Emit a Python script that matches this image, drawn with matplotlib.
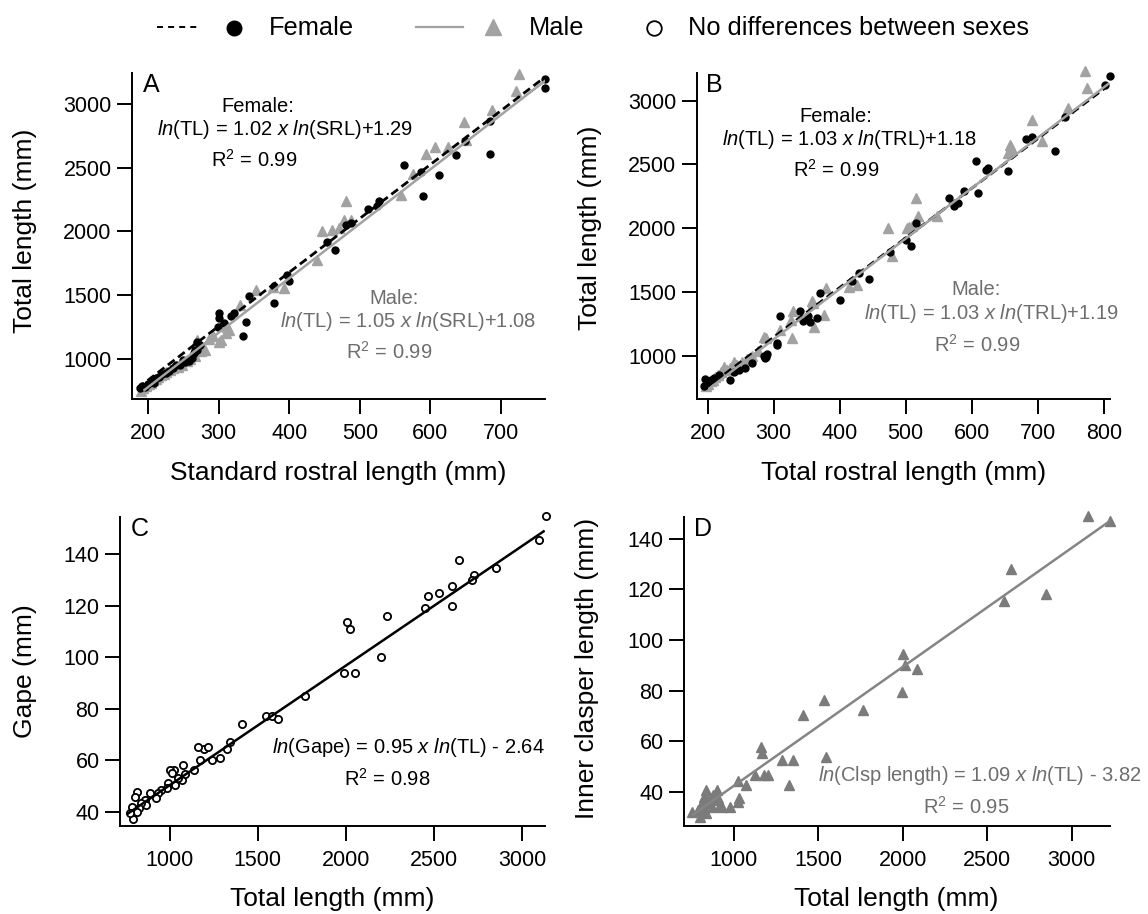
import numpy as np
import matplotlib.pyplot as plt
from matplotlib.lines import Line2D

plt.rcParams['font.family'] = ['Liberation Sans', 'DejaVu Sans']
plt.rcParams['mathtext.fontset'] = 'custom'
plt.rcParams['mathtext.rm'] = 'Liberation Sans'
plt.rcParams['mathtext.it'] = 'Liberation Sans:italic'

# ---- panel A : total length vs standard rostral length ----
a_fem_srl = [763, 763, 685, 685, 637, 649, 563, 587, 612, 590, 511, 527, 525, 480, 488,
             454, 465, 400, 397, 379, 379, 343, 339, 334, 301, 301, 307, 317, 322, 299,
             273, 270, 265, 262, 250, 245, 269, 267,
             189, 192, 196, 200, 204, 208, 212, 216, 220, 225, 230, 236, 240, 252, 258]
a_fem_tl = [3200, 3125, 2870, 2610, 2597, 2707, 2524, 2464, 2446, 2281, 2176, 2236, 2197, 2048, 2066,
            1917, 1856, 1608, 1660, 1576, 1437, 1495, 1293, 1181, 1359, 1320, 1280, 1338, 1359, 1254,
            1110, 1070, 1045, 1005, 992, 953, 1136, 1070,
            770, 790, 783, 805, 820, 815, 850, 862, 880, 890, 905, 925, 950, 975, 985]
a_mal_srl = [725, 721, 688, 647, 625, 607, 594, 651, 576, 559, 480, 488, 478, 470, 460,
             446, 439, 353, 392, 377, 330, 301, 312, 286, 270, 304, 281, 310, 315,
             190, 193, 197, 201, 204, 207, 211, 214, 218, 222, 226, 231, 236, 242, 248,
             255, 260, 266, 275, 292]
a_mal_tl = [3239, 3100, 2951, 2859, 2663, 2663, 2608, 2720, 2453, 2289, 2236, 2092, 2092, 2027, 2014,
            2000, 1778, 1542, 1555, 1568, 1424, 1136, 1254, 1155, 1150, 1149, 1070, 1200, 1230,
            752, 770, 785, 800, 815, 835, 845, 860, 875, 885, 900, 910, 925, 940, 955,
            985, 1000, 1020, 1060, 1180]
a_fem_fit = ([185, 762], [770, 3210])
a_mal_fit = ([195, 762], [757, 3180])

# ---- panel B : total length vs total rostral length ----
b_fem_trl = [810, 802, 741, 726, 683, 691, 655, 606, 622, 625, 610, 588, 566, 574, 580,
             516, 508, 500, 477, 445, 430, 419, 400, 371, 340, 310, 352, 365, 345, 355,
             305, 286, 290, 305,
             194, 196, 200, 205, 210, 218, 234, 240, 248, 256, 267, 287, 289]
b_fem_tl = [3192, 3127, 2873, 2603, 2702, 2715, 2446, 2524, 2459, 2470, 2276, 2289, 2236, 2171, 2197,
            2040, 1857, 1909, 1812, 1603, 1647, 1582, 1438, 1490, 1354, 1312, 1307, 1294, 1270, 1260,
            1084, 998, 1010, 1100,
            762, 815, 790, 805, 825, 845, 809, 870, 890, 905, 940, 979, 990]
b_mal_trl = [771, 774, 746, 691, 707, 658, 658, 516, 519, 547, 502, 474, 480, 380, 414,
             427, 358, 330, 377, 361, 328, 286, 289, 310, 327, 359, 505, 510, 655, 660,
             198, 201, 205, 208, 212, 216, 220, 225, 229, 234, 240, 245, 252, 260, 268, 276]
b_mal_tl = [3231, 3100, 2943, 2852, 2681, 2655, 2603, 2236, 2092, 2092, 2001, 2001, 1778, 1530, 1542,
            1555, 1425, 1347, 1320, 1228, 1137, 1150, 1135, 1202, 1280, 1410, 2010, 2020, 2590, 2640,
            760, 780, 800, 812, 830, 850, 870, 914, 890, 905, 953, 930, 950, 975, 1000, 1040]
b_fem_fit = ([195, 807], [735, 3119])
b_mal_fit = ([203, 807], [744, 3132])

# ---- panel C : gape vs total length (sexes pooled) ----
c_tl = [3134, 3093, 2850, 2726, 2716, 2643, 2601, 2601, 2529, 2466, 2446, 2234, 2197, 2006, 2021,
        1990, 2052, 1768, 1548, 1579, 1612, 1409, 1342, 1326, 1284, 1243, 1195, 1216, 1160, 1170,
        1139, 1077, 1073, 1087, 1025, 1004, 1015, 1031, 994, 983, 952, 932, 921, 890, 859,
        869, 818, 807, 838, 828, 786, 818, 791, 776, 1046]
c_gape = [154.9, 145.8, 134.7, 132.2, 129.9, 138.0, 127.9, 120.1, 125.0, 123.7, 119.2, 115.9, 100.0, 113.7, 111.0,
          93.8, 93.8, 84.8, 77.0, 77.0, 75.9, 74.0, 67.2, 64.2, 61.0, 60.1, 64.2, 65.3, 65.3, 60.1,
          56.2, 58.1, 52.3, 54.5, 56.2, 56.2, 54.9, 50.3, 51.0, 49.0, 48.4, 47.1, 45.1, 47.1, 44.5,
          42.6, 47.7, 45.8, 43.2, 41.3, 41.9, 40.0, 37.0, 39.3, 52.9]
c_fit = ([766, 3120], [39.3, 149.0])

# ---- panel D : inner clasper length vs total length (males) ----
d_tl = [3098, 3228, 2643, 2599, 2849, 2000, 2014, 2086, 1993, 1765, 1533, 1412, 1548, 1158, 1165,
        1347, 1284, 1325, 1126, 1180, 1201, 1071, 1024, 1032, 1024, 833, 898, 876, 822, 887,
        920, 974, 931, 855, 811, 751, 790, 800, 833, 822, 870, 905, 845]
d_clsp = [149.2, 147.0, 128.1, 115.3, 118.3, 94.4, 90.2, 88.5, 79.3, 72.3, 76.3, 70.4, 53.5, 57.5, 55.4,
          52.5, 52.5, 42.6, 46.6, 46.6, 46.6, 42.6, 44.3, 37.3, 36.0, 40.6, 40.6, 38.7, 38.0, 36.7,
          34.7, 34.0, 34.0, 35.4, 35.4, 31.8, 32.7, 30.1, 31.4, 33.4, 34.0, 37.5, 36.5]
d_fit = ([760, 3224], [31, 147])

FEM = 'black'
MAL = '#a2a2a2'
MAL_TXT = '#6e6e6e'
D_COL = '#7b7b7b'

W, H = 1148, 914
fig = plt.figure(figsize=(W / 100, H / 100), dpi=100)


def style(ax, xticks, yticks):
    for s in ['top', 'right']:
        ax.spines[s].set_visible(False)
    for s in ['left', 'bottom']:
        ax.spines[s].set_linewidth(1.4)
    ax.set_xticks(xticks)
    ax.set_yticks(yticks)
    ax.tick_params(length=10.5, width=1.4, labelsize=15.5)
    ax.tick_params(axis='x', pad=7)
    ax.tick_params(axis='y', pad=4)


def eq(ax, x, y, s, color='black'):
    ax.text(x, y, s, ha='center', va='center', fontsize=14.5, color=color)


# A
axA = fig.add_axes([0.1148, 0.5635, 0.3603, 0.3567])
axA.plot(a_mal_srl, a_mal_tl, ls='none', marker='^', ms=6.5, color=MAL, clip_on=False)
axA.plot(a_fem_srl, a_fem_tl, ls='none', marker='o', ms=5, color=FEM, clip_on=False)
axA.plot(*a_mal_fit, color=MAL, lw=1.8)
axA.plot(*a_fem_fit, color=FEM, lw=2.0, ls=(0, (3, 1.6)))
axA.set_xlim(177, 763)
axA.set_ylim(686, 3244)
style(axA, range(200, 701, 100), range(1000, 3001, 500))
axA.set_xlabel('Standard rostral length (mm)', fontsize=19)
axA.set_ylabel('Total length (mm)', fontsize=19)
axA.xaxis.set_label_coords(0.5, -0.19)
axA.yaxis.set_label_coords(-0.23, 0.515)
axA.text(0.027, 1.0, 'A', transform=axA.transAxes, ha='left', va='top', fontsize=18)
eq(axA, 356, 2982, 'Female:')
eq(axA, 394, 2799, r'$\mathit{ln}$(TL) = 1.02 $\mathit{x}$ $\mathit{ln}$(SRL)+1.29')
eq(axA, 351, 2563, r'R$^2$ = 0.99')
eq(axA, 548, 1477, 'Male:', MAL_TXT)
eq(axA, 569, 1293, r'$\mathit{ln}$(TL) = 1.05 $\mathit{x}$ $\mathit{ln}$(SRL)+1.08', MAL_TXT)
eq(axA, 542, 1058, r'R$^2$ = 0.99', MAL_TXT)

# B
axB = fig.add_axes([0.6068, 0.5635, 0.3598, 0.3567])
axB.plot(b_mal_trl, b_mal_tl, ls='none', marker='^', ms=6.5, color=MAL, clip_on=False)
axB.plot(b_fem_trl, b_fem_tl, ls='none', marker='o', ms=5, color=FEM, clip_on=False)
axB.plot(*b_fem_fit, color=FEM, lw=2.0, ls=(0, (3, 1.6)))
axB.plot(*b_mal_fit, color=MAL, lw=1.8)
axB.set_xlim(183.4, 809)
axB.set_ylim(660, 3218)
style(axB, range(200, 801, 100), range(1000, 3001, 500))
axB.set_xlabel('Total rostral length (mm)', fontsize=19)
axB.set_ylabel('Total length (mm)', fontsize=19)
axB.xaxis.set_label_coords(0.5, -0.19)
axB.yaxis.set_label_coords(-0.23, 0.525)
axB.text(0.022, 1.0, 'B', transform=axB.transAxes, ha='left', va='top', fontsize=18)
eq(axB, 394, 2878, 'Female:')
eq(axB, 415, 2695, r'$\mathit{ln}$(TL) = 1.03 $\mathit{x}$ $\mathit{ln}$(TRL)+1.18')
eq(axB, 394, 2459, r'R$^2$ = 0.99')
eq(axB, 606, 1516, 'Male:', MAL_TXT)
eq(axB, 630, 1328, r'$\mathit{ln}$(TL) = 1.03 $\mathit{x}$ $\mathit{ln}$(TRL)+1.19', MAL_TXT)
eq(axB, 609, 1084, r'R$^2$ = 0.99', MAL_TXT)

# C
axC = fig.add_axes([0.1043, 0.0966, 0.3708, 0.3378])
axC.plot(c_tl, c_gape, ls='none', marker='o', ms=5.2, mfc='white', mec='black', mew=1.3, clip_on=False)
axC.plot(*c_fit, color='black', lw=1.8)
axC.set_xlim(718, 3130)
axC.set_ylim(34.5, 154.6)
style(axC, range(1000, 3001, 500), range(40, 141, 20))
axC.set_xlabel('Total length (mm)', fontsize=19)
axC.set_ylabel('Gape (mm)', fontsize=19)
axC.xaxis.set_label_coords(0.5, -0.2)
axC.yaxis.set_label_coords(-0.195, 0.5)
axC.text(0.025, 1.0, 'C', transform=axC.transAxes, ha='left', va='top', fontsize=18)
eq(axC, 2352, 65.0, r'$\mathit{ln}$(Gape) = 0.95 $\mathit{x}$ $\mathit{ln}$(TL) - 2.64')
eq(axC, 2232, 52.9, r'R$^2$ = 0.98')

# D
axD = fig.add_axes([0.5956, 0.0966, 0.3709, 0.3378])
axD.plot(d_tl, d_clsp, ls='none', marker='^', ms=7.2, color=D_COL, clip_on=False)
axD.plot(*d_fit, color='#858585', lw=1.8)
axD.set_xlim(703, 3224)
axD.set_ylim(26.5, 148.7)
style(axD, range(1000, 3001, 500), range(40, 141, 20))
axD.set_xlabel('Total length (mm)', fontsize=19)
axD.set_ylabel('Inner clasper length (mm)', fontsize=19)
axD.xaxis.set_label_coords(0.5, -0.2)
axD.yaxis.set_label_coords(-0.198, 0.51)
axD.text(0.025, 1.0, 'D', transform=axD.transAxes, ha='left', va='top', fontsize=18)
eq(axD, 2458, 46.2, r'$\mathit{ln}$(Clsp length) = 1.09 $\mathit{x}$ $\mathit{ln}$(TL) - 3.82', MAL_TXT)
eq(axD, 2376, 33.8, r'R$^2$ = 0.95', MAL_TXT)


# legend across the top, placed in pixel units
def fx(x):
    return x / W


def fy(y):
    return 1 - y / H


fig.add_artist(Line2D([fx(157), fx(201)], [fy(27), fy(27)], color='black', lw=1.4,
                      ls=(0, (3.1, 2.6)), transform=fig.transFigure))
fig.add_artist(Line2D([fx(234)], [fy(27.5)], marker='o', ms=10.5, color='black', ls='none',
                      transform=fig.transFigure))
fig.text(fx(269), fy(28), 'Female', ha='left', va='center', fontsize=18.3)
fig.add_artist(Line2D([fx(416), fx(463)], [fy(27), fy(27)], color=MAL, lw=1.6,
                      transform=fig.transFigure))
fig.add_artist(Line2D([fx(493)], [fy(26.5)], marker='^', ms=11, color=MAL, ls='none',
                      transform=fig.transFigure))
fig.text(fx(529), fy(28), 'Male', ha='left', va='center', fontsize=18.3)
fig.add_artist(Line2D([fx(654)], [fy(27.5)], marker='o', ms=10.5, mfc='white', mec='black',
                      mew=1.3, ls='none', transform=fig.transFigure))
fig.text(fx(688), fy(28), 'No differences between sexes', ha='left', va='center', fontsize=18.3)

fig.savefig('out.png', dpi=100)
